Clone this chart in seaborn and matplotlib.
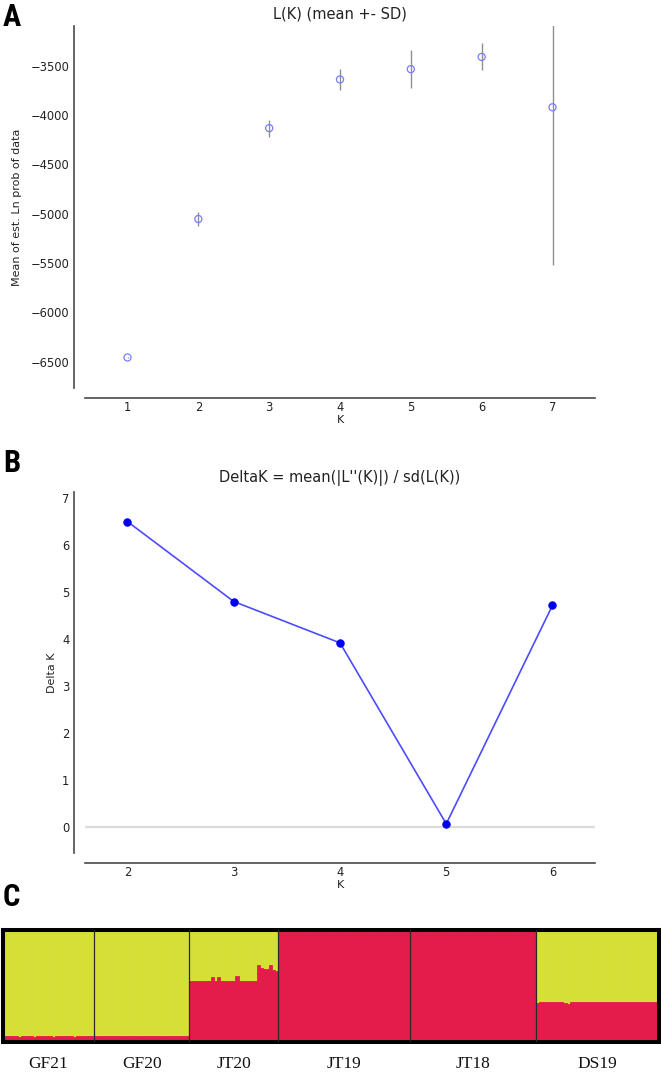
import numpy as np
import pandas as pd
import matplotlib
matplotlib.use("Agg")
import matplotlib.pyplot as plt
import seaborn as sns

# ---------------- data ----------------
# Panel A: L(K) mean +- SD
k_a = [1, 2, 3, 4, 5, 6, 7]
lnp_mean = [-6456, -5054, -4134, -3641, -3537, -3413, -3923]
lnp_sd = [5, 75, 87, 104, 190, 136, 1600]

# Panel B: Delta K
k_b = [2, 3, 4, 5, 6]
delta_k = [6.50, 4.80, 3.92, 0.07, 4.72]

# Panel C: membership proportion of the red cluster for each individual
pop_names = ["GF21", "GF20", "JT20", "JT19", "JT18", "DS19"]
q_gf21 = [0.052, 0.050, 0.051, 0.052, 0.050, 0.049, 0.051, 0.052, 0.050, 0.050,
          0.049, 0.052, 0.054, 0.050, 0.051, 0.050, 0.049, 0.052, 0.050, 0.051,
          0.050, 0.052, 0.050, 0.049, 0.051, 0.050, 0.052, 0.050, 0.051, 0.050]
q_gf20 = [0.054, 0.053, 0.052, 0.054, 0.055, 0.053, 0.052, 0.054, 0.053, 0.056,
          0.054, 0.053, 0.052, 0.054, 0.055, 0.053, 0.054, 0.052, 0.053, 0.054,
          0.055, 0.053, 0.052, 0.054, 0.053, 0.054, 0.052, 0.053, 0.054, 0.053,
          0.054]
q_jt20 = [0.546, 0.546, 0.547, 0.546, 0.545, 0.546, 0.547, 0.584, 0.547, 0.584,
          0.543, 0.542, 0.544, 0.543, 0.545, 0.593, 0.546, 0.545, 0.546, 0.546,
          0.547, 0.546, 0.690, 0.658, 0.648, 0.650, 0.684, 0.640, 0.630]
q_jt19 = [0.996, 0.997, 0.996, 0.995, 0.996, 0.997, 0.996, 0.996, 0.995, 0.996,
          0.997, 0.996, 0.996, 0.995, 0.996, 0.997, 0.996, 0.996, 0.995, 0.996,
          0.997, 0.996, 0.996, 0.995, 0.996, 0.997, 0.996, 0.996, 0.995, 0.996,
          0.997, 0.996, 0.996, 0.995, 0.996, 0.997, 0.996, 0.996, 0.995, 0.996,
          0.997, 0.996, 0.996]
q_jt18 = [0.996, 0.995, 0.996, 0.997, 0.996, 0.996, 0.995, 0.996, 0.997, 0.996,
          0.996, 0.995, 0.996, 0.997, 0.996, 0.996, 0.995, 0.996, 0.997, 0.996,
          0.996, 0.995, 0.996, 0.997, 0.996, 0.996, 0.995, 0.996, 0.997, 0.996,
          0.996, 0.995, 0.996, 0.997, 0.996, 0.996, 0.995, 0.996, 0.997, 0.996,
          0.996]
q_ds19 = [0.352, 0.354, 0.356, 0.355, 0.357, 0.358, 0.356, 0.355, 0.357, 0.352,
          0.343, 0.354, 0.356, 0.358, 0.357, 0.356, 0.357, 0.359, 0.356, 0.355,
          0.357, 0.358, 0.356, 0.355, 0.357, 0.356, 0.358, 0.357, 0.356, 0.355,
          0.357, 0.356, 0.358, 0.357, 0.356, 0.357, 0.358, 0.357, 0.356, 0.355]
pop_q = [q_gf21, q_gf20, q_jt20, q_jt19, q_jt18, q_ds19]

# ---------------- style ----------------
sns.set_style("white")
plt.rcParams["font.family"] = ["DejaVu Sans"]
plt.rcParams["axes.edgecolor"] = "#4a4a4a"
plt.rcParams["axes.linewidth"] = 1.2

W, H = 661, 1073
fig = plt.figure(figsize=(W / 100, H / 100), dpi=100)


def fax(left, top, right, bottom):
    return fig.add_axes([left / W, 1 - bottom / H, (right - left) / W, (bottom - top) / H])


def style_ticks(ax):
    ax.tick_params(axis="both", direction="in", length=3, width=1, color="#aaaaaa",
                   labelcolor="#222222", labelsize=8.3)
    ax.tick_params(axis="x", pad=2.4)
    ax.tick_params(axis="y", pad=3.2)


# ---------------- Panel A ----------------
axA = fax(85, 26, 595, 388)
axA.errorbar(k_a, lnp_mean, yerr=lnp_sd, fmt="none", ecolor="#8f8f8f",
             elinewidth=1.0, capsize=0, zorder=1)
sns.scatterplot(x=k_a, y=lnp_mean, ax=axA, s=26, marker="o",
                color="#8080ff", linewidth=0.9, zorder=3)
sc = axA.collections[-1]
sc.set_facecolor("none")
sc.set_edgecolor("#7b7bff")
axA.set_xlim(0.4, 7.6)
axA.set_ylim(-6765, -3100)
axA.set_xticks(k_a)
axA.set_yticks([-6500, -6000, -5500, -5000, -4500, -4000, -3500])
style_ticks(axA)
axA.set_title("L(K) (mean +- SD)", fontsize=10.5, color="#222222", pad=5.4)
axA.set_xlabel("K", fontsize=8, color="#222222", labelpad=1)
axA.set_ylabel("Mean of est. Ln prob of data", fontsize=8, color="#222222", labelpad=6)
sns.despine(ax=axA, offset={"left": 8, "bottom": 7})

# ---------------- Panel B ----------------
axB = fax(85, 492, 595, 853)
axB.axhline(0, color="#dcdcdc", lw=1.6, zorder=0)
sns.lineplot(x=k_b, y=delta_k, ax=axB, color="#4c4cff", lw=1.2,
             marker="o", markersize=5.3, markerfacecolor="#0000ee",
             markeredgecolor="#0000ee", zorder=3)
axB.set_xlim(1.6, 6.4)
axB.set_ylim(-0.55, 7.13)
axB.set_xticks(k_b)
axB.set_yticks(range(0, 8))
style_ticks(axB)
axB.set_title("DeltaK = mean(|L''(K)|) / sd(L(K))", fontsize=10.5, color="#222222", pad=7)
axB.set_xlabel("K", fontsize=8, color="#222222", labelpad=1)
axB.set_ylabel("Delta K", fontsize=8, color="#222222", labelpad=4)
sns.despine(ax=axB, offset={"left": 8, "bottom": 7})

# ---------------- Panel C ----------------
rows = []
for name, qs in zip(pop_names, pop_q):
    for q in qs:
        rows.append((name, q))
dfC = pd.DataFrame(rows, columns=["pop", "red"])
dfC["ind"] = np.arange(len(dfC))
dfC["full"] = 1.0

YELLOW = "#d6df36"
RED = "#e31c4b"
axC = fax(2.5, 930, 658.5, 1042)
sns.barplot(data=dfC, x="ind", y="full", ax=axC, native_scale=True, width=1.0,
            color=YELLOW, saturation=1, linewidth=0.6, edgecolor=YELLOW)
sns.barplot(data=dfC, x="ind", y="red", ax=axC, native_scale=True, width=1.0,
            color=RED, saturation=1, linewidth=0.6, edgecolor=RED)
n_tot = len(dfC)
axC.set_xlim(-0.5, n_tot - 0.5)
axC.set_ylim(0, 1)
counts = [len(q) for q in pop_q]
bounds = np.cumsum(counts)
for b in bounds[:-1]:
    axC.axvline(b - 0.5, color="#2a2a2a", lw=0.9, zorder=5)
starts = np.concatenate([[0], bounds[:-1]])
centers = (starts + bounds - 1) / 2.0
axC.set_xticks(centers)
axC.set_xticklabels(pop_names, fontsize=12.5, family=["Liberation Serif", "DejaVu Serif"],
                    color="#111111")
axC.set_yticks([])
axC.tick_params(axis="x", length=0, pad=10)
axC.set_xlabel("")
axC.set_ylabel("")
for s in axC.spines.values():
    s.set_visible(True)
    s.set_color("black")
    s.set_linewidth(2.9)

# ---------------- panel letters ----------------
letter_font = ["Roboto Condensed", "Roboto", "DejaVu Sans"]
for letter, base_y in [("A", 26), ("B", 472), ("C", 906)]:
    fig.text(3 / W, 1 - base_y / H, letter, fontsize=22, fontweight="bold",
             family=letter_font, va="baseline", ha="left", color="black")

fig.savefig("out.png", dpi=100)
